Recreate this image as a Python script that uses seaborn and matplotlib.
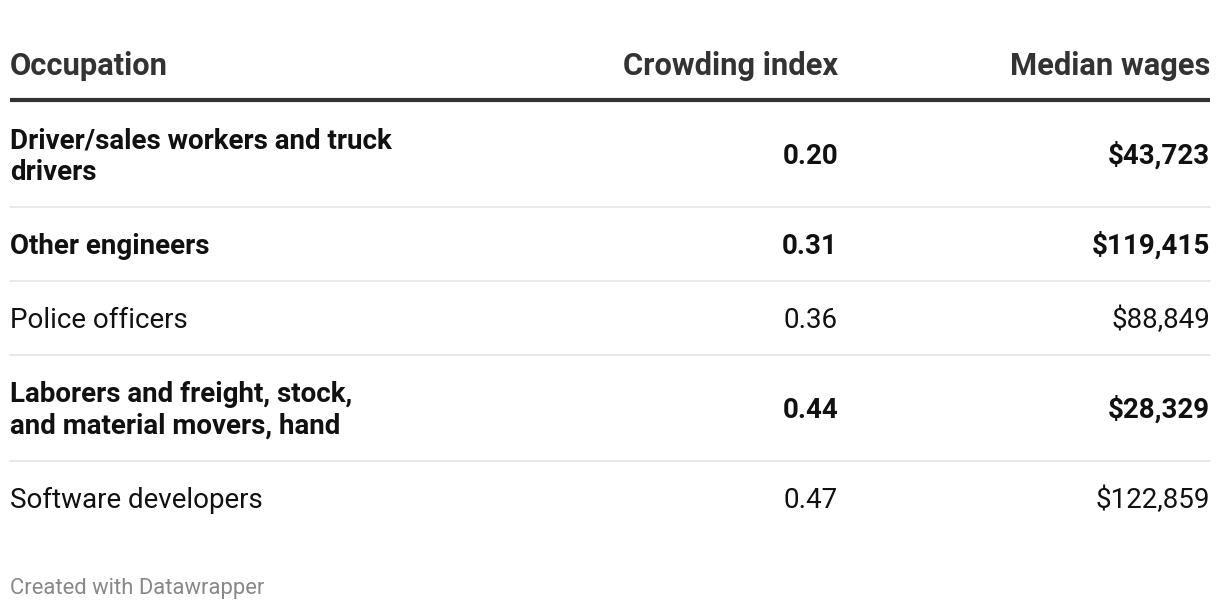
import matplotlib
matplotlib.use("Agg")
import matplotlib.pyplot as plt
import seaborn as sns

# Table data
occupations = [
    "Driver/sales workers and truck\ndrivers",
    "Other engineers",
    "Police officers",
    "Laborers and freight, stock,\nand material movers, hand",
    "Software developers",
]
crowding_index = [0.20, 0.31, 0.36, 0.44, 0.47]
median_wages = [43723, 119415, 88849, 28329, 122859]
bold_rows = [True, True, False, True, False]
headers = ["Occupation", "Crowding index", "Median wages"]
footer = "Created with Datawrapper"

sns.set_theme(style="white")
plt.rcParams["font.family"] = ["Roboto", "DejaVu Sans"]

fig = plt.figure(figsize=(12.2, 6.1), dpi=100)
ax = fig.add_axes([0, 0, 1, 1])
ax.set_xlim(0, 1220)
ax.set_ylim(610, 0)
ax.axis("off")

col_x = [10, 838, 1210]
col_ha = ["left", "right", "right"]

# -----------------------------
# Header
# -----------------------------
for h, x, ha in zip(headers, col_x, col_ha):
    ax.text(x, 75, h, ha=ha, va="baseline", fontsize=22.2,
            fontweight="bold", color="#333333")
ax.plot([10, 1210], [100, 100], color="#333333", lw=3, solid_capstyle="butt")

# -----------------------------
# Rows
# -----------------------------
row_centers = [154, 244, 318, 408, 498]
separators = [207, 281, 355, 461]
line_gap = 32

for occ, ci, wage, bold, yc in zip(occupations, crowding_index, median_wages,
                                   bold_rows, row_centers):
    weight = "bold" if bold else "normal"
    lines = occ.split("\n")
    first = yc - line_gap * (len(lines) - 1) / 2
    for i, line in enumerate(lines):
        ax.text(col_x[0], first + i * line_gap + 10, line, ha="left",
                va="baseline", fontsize=20, fontweight=weight, color="#111111")
    ax.text(col_x[1], yc + 10, f"{ci:.2f}", ha="right", va="baseline",
            fontsize=20, fontweight=weight, color="#111111")
    ax.text(col_x[2], yc + 10, f"${wage:,}", ha="right", va="baseline",
            fontsize=20, fontweight=weight, color="#111111")

for sy in separators:
    ax.plot([10, 1210], [sy, sy], color="#e5e5e5", lw=1.2)

# -----------------------------
# Footer
# -----------------------------
ax.text(10, 594, footer, ha="left", va="baseline", fontsize=15.8,
        color="#888888")

fig.savefig("out.png", dpi=100, facecolor="white")
plt.close(fig)
